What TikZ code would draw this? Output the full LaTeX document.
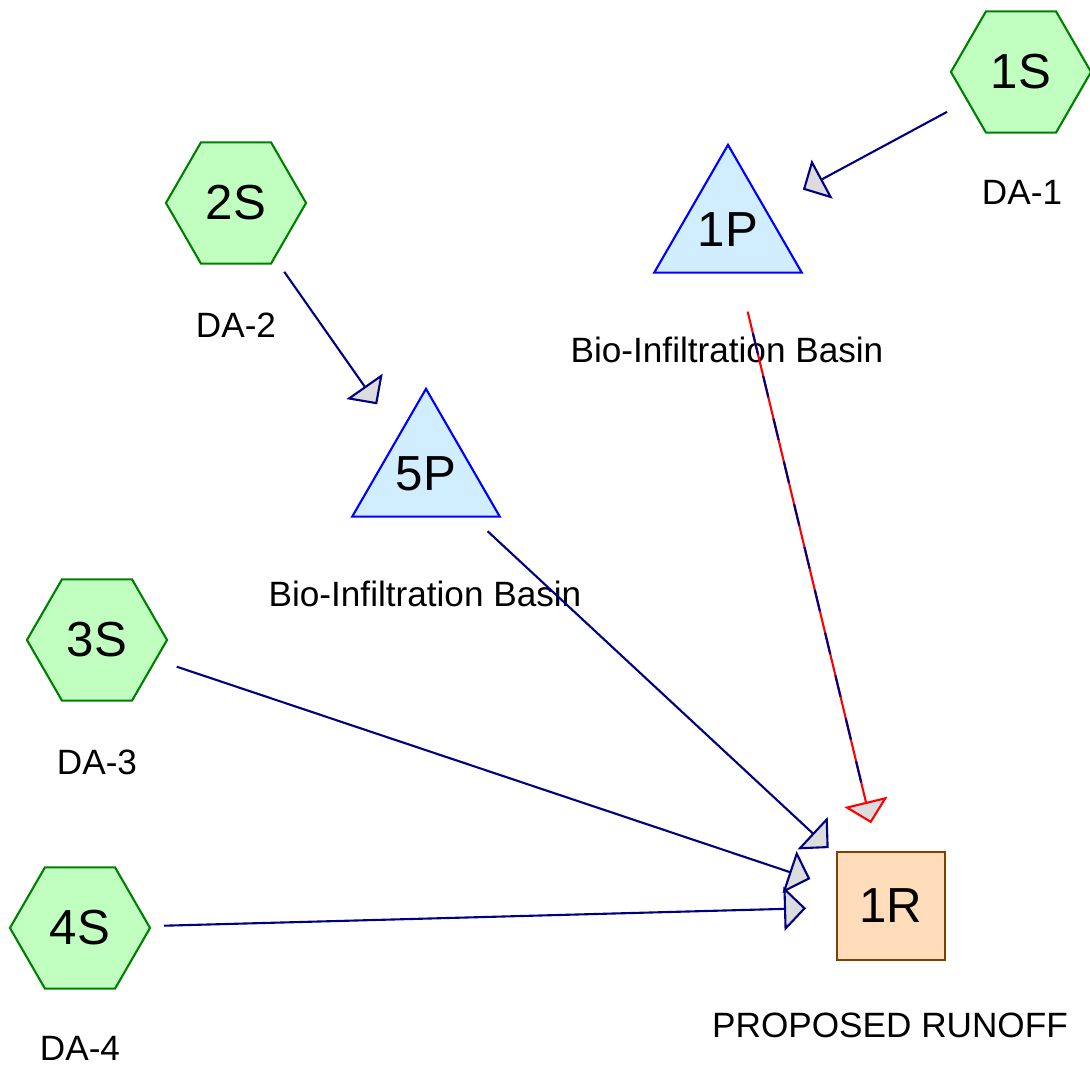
\documentclass[tikz,border=0pt]{standalone}
\usepackage{fontspec}
\setmainfont{Liberation Sans}
\usetikzlibrary{shapes.geometric,arrows.meta}

\definecolor{subfill}{RGB}{192,255,192}
\definecolor{subline}{RGB}{0,128,0}
\definecolor{pondfill}{RGB}{208,238,255}
\definecolor{pondline}{RGB}{0,0,255}
\definecolor{reachfill}{RGB}{255,221,187}
\definecolor{reachline}{RGB}{128,64,0}
\definecolor{linkline}{RGB}{0,0,128}
\definecolor{tipfill}{RGB}{220,220,220}

\tikzset{
  subcat/.style={regular polygon,regular polygon sides=6,
    minimum size=1.40cm,inner sep=0pt,draw=subline,fill=subfill,line width=0.6pt,
    font=\fontsize{14}{16}\selectfont},
  pond/.style={regular polygon,regular polygon sides=3,minimum size=1.58cm,
    inner sep=0pt,draw=pondline,fill=pondfill,line width=0.6pt,
    font=\fontsize{14}{16}\selectfont},
  reach/.style={rectangle,minimum size=1.08cm,inner sep=0pt,draw=reachline,
    fill=reachfill,line width=0.6pt,font=\fontsize{14}{16}\selectfont},
  tag/.style={font=\fontsize{10}{12}\selectfont},
  link/.style={draw=linkline,line width=0.6pt,shorten <=0.84cm,shorten >=0.85cm,
    -{Triangle[length=0.22cm,width=0.44cm,fill=tipfill]}}
}

\begin{document}
\begin{tikzpicture}[x=0.01cm,y=-0.01cm]

\fill [white] (0,0) rectangle (1090,1068);
\useasboundingbox (0,0) rectangle (1090,1068);

\node [subcat] (s1) at (1021,72) {1S};
\node [subcat] (s2) at (236,203) {2S};
\node [subcat] (s3) at (97,640) {3S};
\node [subcat] (s4) at (80,928) {4S};
\node [pond] (p1) at (728,230) {1P};
\node [pond] (p5) at (426,474) {5P};
\node [reach] (r1) at (891,906) {1R};

\node [tag] (s1tag) at (1022,192) {DA-1};
\node [tag] (s2tag) at (236,325) {DA-2};
\node [tag] (s3tag) at (97,762) {DA-3};
\node [tag] (s4tag) at (80,1048) {DA-4};
\node [tag] (p1tag) at (727,350) {Bio-Infiltration Basin};
\node [tag] (p5tag) at (425,594) {Bio-Infiltration Basin};
\node [tag] (r1tag) at (890,1025) {PROPOSED RUNOFF};

\draw [link] (s1.center) -- (p1.center);
\draw [link] (s2.center) -- (p5.center);
\draw [link] (p5.center) -- (r1.center);
\draw [link] (s3.center) -- (r1.center);
\draw [link] (s4.center) -- (r1.center);
% red line with navy dashes
\draw [link,draw=red] (p1.center) -- (r1.center);
\draw [draw=linkline,line width=0.6pt,shorten <=0.84cm,shorten >=1.07cm,
  dash pattern=on 0.22cm off 0.22cm,dash phase=0.22cm] (p1.center) -- (r1.center);
\end{tikzpicture}
\end{document}
